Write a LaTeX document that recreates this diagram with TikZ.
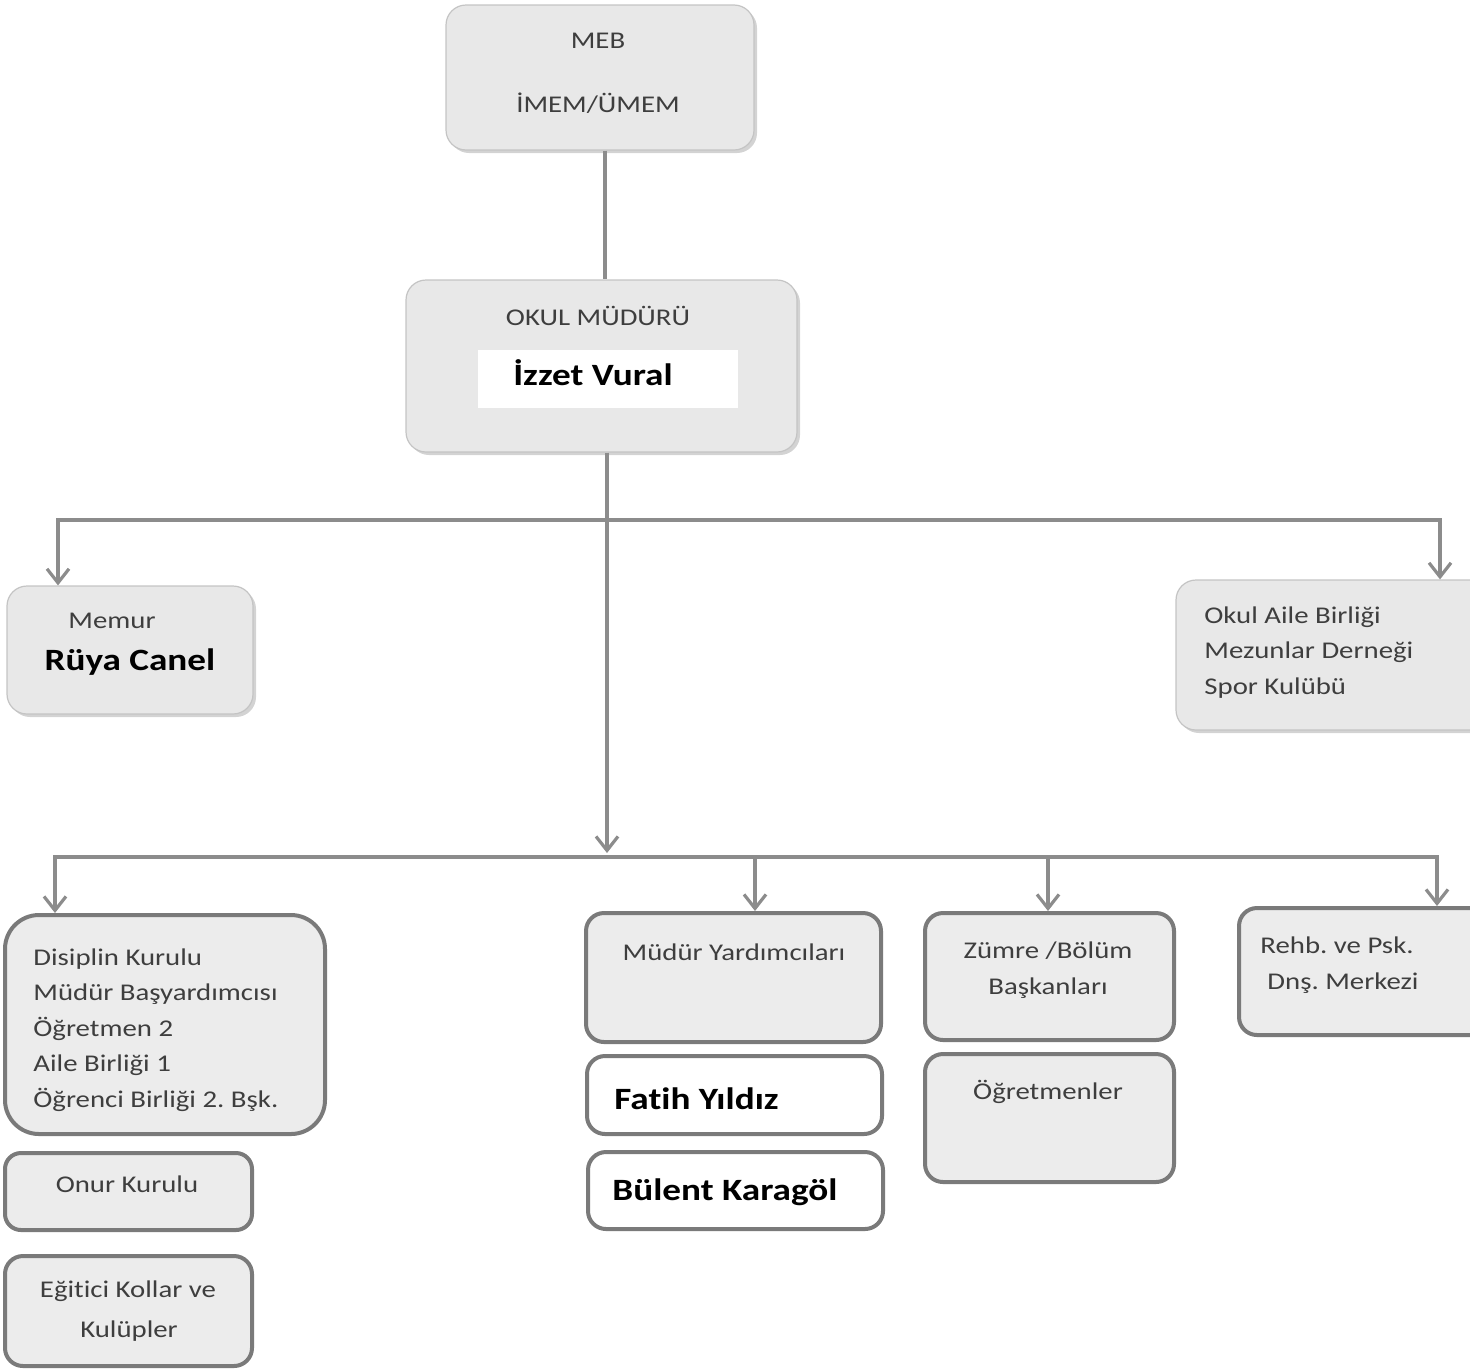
\documentclass[tikz,border=0pt]{standalone}
\usepackage{fontspec}
\setmainfont{Carlito}[FakeStretch=1.2, RawFeature={-liga;-dlig;-clig}]
\usetikzlibrary{arrows.meta,shadows,fit}
\definecolor{txtgray}{HTML}{3E3E3E}
\definecolor{conngray}{HTML}{8C8C8C}
\definecolor{topfill}{HTML}{E8E8E8}
\definecolor{topdraw}{HTML}{C4C4C4}
\definecolor{botfill}{HTML}{ECECEC}
\definecolor{botdraw}{HTML}{7A7A7A}
\frenchspacing
\begin{document}
\begin{tikzpicture}[x=0.5pt,y=-0.5pt,
 topbox/.style={draw=topdraw, line width=0.6pt, fill=topfill, rounded corners=10pt, inner sep=0pt,
   drop shadow={shadow xshift=1.5pt, shadow yshift=-1.5pt, opacity=0.35}},
 botbox/.style={draw=botdraw, line width=2pt, fill=botfill, rounded corners=9pt, inner sep=0pt},
 txt/.style={text=txtgray, inner sep=0pt, font=\fontsize{12}{17.75}\selectfont},
 nametxt/.style={text=black, inner sep=0pt, font=\fontsize{15.5}{18}\selectfont\bfseries},
 conn/.style={draw=conngray, line width=1.6pt},
 arr/.style={-{Straight Barb[length=7pt,width=11pt]}}
]
\useasboundingbox (0,0) rectangle (1470,1371);

% top level
\node[topbox, fit={(446,5)(754,150)}] (meb) {};
\node[txt, anchor=base] (mebA) at (598,48) {MEB};
\node[txt, anchor=base] (mebB) at (598,112) {İMEM/ÜMEM};

\node[topbox, fit={(406,280)(797,452)}] (okul) {};
\node[txt, anchor=base] (okulA) at (598,325) {OKUL MÜDÜRÜ};
\node[fill=white, inner sep=0pt, fit={(478,350)(738,408)}] (izzetbox) {};
\node[nametxt, anchor=base] (izzet) at (593,385) {İzzet Vural};

\node[topbox, fit={(7,586)(253,714)}] (memur) {};
\node[txt, anchor=base] (memurA) at (112,628) {Memur};
\node[nametxt, anchor=base] (ruya) at (130,670) {Rüya Canel};

\node[topbox, fit={(1176,580)(1500,730)}] (aile) {};
\node[txt, anchor=north west, align=left] (aileT) at (1204,606)
  {Okul Aile Birliği\\Mezunlar Derneği\\Spor Kulübü};

% bottom level
\node[botbox, rounded corners=17pt, fit={(5,915)(325,1134)}] (disiplin) {};
\node[txt, anchor=north west, align=left] (disiplinT) at (33,948)
  {Disiplin Kurulu\\Müdür Başyardımcısı\\Öğretmen 2\\Aile Birliği 1\\Öğrenci Birliği 2. Bşk.};

\node[botbox, rounded corners=8pt, fit={(5,1153)(252,1230)}] (onur) {};
\node[txt, anchor=base] (onurT) at (127,1192) {Onur Kurulu};

\node[botbox, rounded corners=9pt, fit={(5,1256)(252,1366)}] (egitici) {};
\node[txt, anchor=base] (egiticiA) at (128,1297) {Eğitici Kollar ve};
\node[txt, anchor=base] (egiticiB) at (129,1337) {Kulüpler};

\node[botbox, fit={(586,913)(881,1042)}] (mudyard) {};
\node[txt, anchor=base] (mudyardT) at (734,960) {Müdür Yardımcıları};

\node[botbox, fill=white, fit={(587,1056)(882,1134)}] (fatihbox) {};
\node[nametxt, anchor=base west] (fatih) at (614,1109) {Fatih Yıldız};

\node[botbox, fill=white, fit={(588,1152)(883,1229)}] (bulentbox) {};
\node[nametxt, anchor=base west] (bulent) at (612,1200) {Bülent Karagöl};

\node[botbox, fit={(925,913)(1174,1040)}] (zumre) {};
\node[txt, anchor=base] (zumreA) at (1048,958) {Zümre /Bölüm};
\node[txt, anchor=base] (zumreB) at (1048,994) {Başkanları};

\node[botbox, fit={(925,1054)(1174,1182)}] (ogretmen) {};
\node[txt, anchor=base] (ogretmenT) at (1048,1099) {Öğretmenler};

\node[botbox, fit={(1239,908)(1500,1035)}] (rehb) {};
\node[txt, anchor=base] (rehbA) at (1337,953) {Rehb. ve Psk.};
\node[txt, anchor=base] (rehbB) at (1343,989) {Dnş. Merkezi};

% connectors
\coordinate (j1) at (607,520);
\coordinate (j2) at (607,857);
\coordinate (b1l) at (58,520);
\coordinate (b1r) at (1440,520);
\coordinate (b2l) at (55,857);
\coordinate (b2r) at (1437,857);
\coordinate (b2a) at (755,857);
\coordinate (b2b) at (1048,857);

\draw[conn] (meb.south -| 605,0) -- (okul.north -| 605,0);
\draw[conn, arr] (okul.south -| j1) -- ([yshift=2pt]j2);
\draw[conn, arr] (j1) -- (b1l) -- (b1l |- memur.north);
\draw[conn, arr] (j1) -- (b1r) -- (b1r |- aile.north);
\draw[conn, arr] (j2) -- (b2l) -- (b2l |- disiplin.north);
\draw[conn, arr] (j2) -- (b2r) -- (b2r |- rehb.north);
\draw[conn, arr] (b2a) -- (b2a |- mudyard.north);
\draw[conn, arr] (b2b) -- (b2b |- zumre.north);
\end{tikzpicture}
\end{document}
